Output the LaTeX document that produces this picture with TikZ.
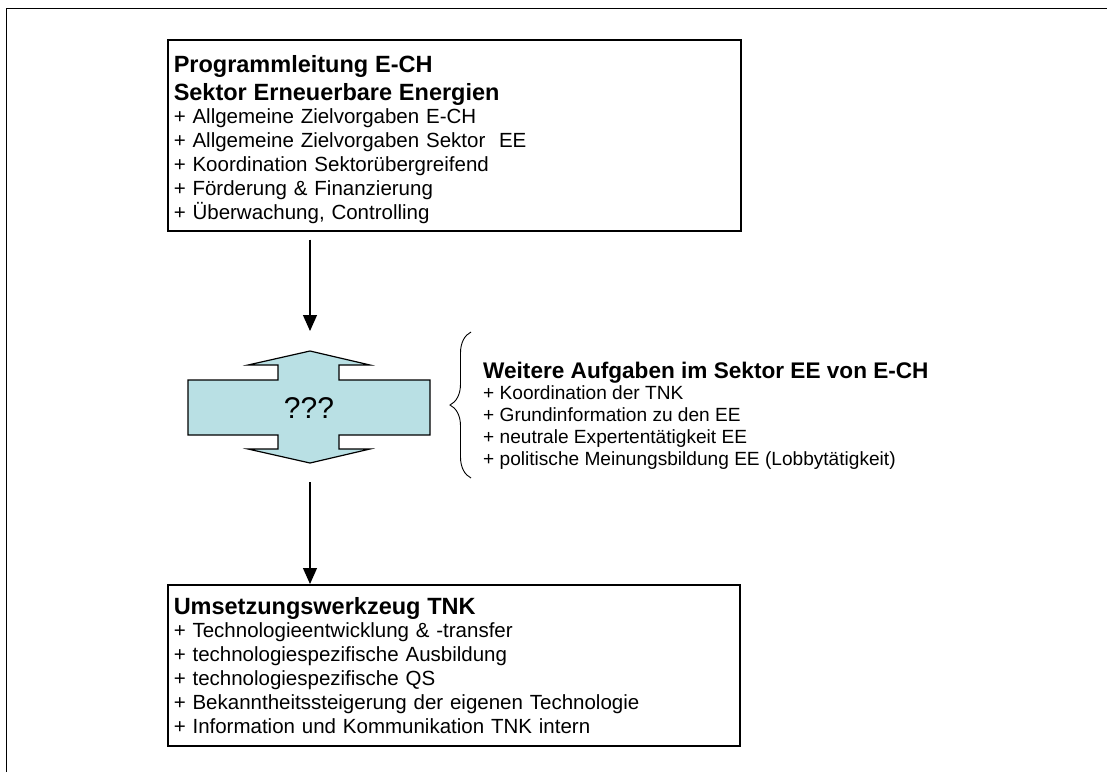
\documentclass[tikz,border=0pt]{standalone}
\usepackage{fontspec}
\setmainfont{Liberation Sans}
\usetikzlibrary{arrows.meta,decorations.pathreplacing}
\definecolor{hubfill}{RGB}{185,224,228}
\begin{document}
\begin{tikzpicture}[x=1pt,y=-1pt,
  boxnode/.style={draw,line width=1.5pt,anchor=north west,align=left,inner xsep=6pt,inner ysep=0pt,font=\fontsize{20.5}{24}\selectfont},
  conn/.style={line width=1.2pt,-{Triangle[length=16pt,width=14pt]}},
  hubshape/.style={fill=hubfill,draw=black,line width=1.2pt,line join=miter},
]
\useasboundingbox (0,0) rectangle (1107,772);
% outer frame
\draw[line width=1.5pt] (6.5,772) -- (6.5,8.5) -- (1107,8.5);

% top box
\node[boxnode,text width=561pt,minimum height=191pt] (top) at (167,39)
 {{\fontsize{23.5}{24}\selectfont\bfseries\rule{0pt}{25pt}Programmleitung E-CH\\[4pt]
  Sektor Erneuerbare Energien}\\[-1pt]
  + Allgemeine Zielvorgaben E-CH\\
  + Allgemeine Zielvorgaben Sektor\ \ EE\\
  + Koordination Sektorübergreifend\\
  + Förderung \& Finanzierung\\
  + Überwachung, Controlling};

% bottom box
\node[boxnode,text width=560pt,minimum height=161pt] (bot) at (167,584)
 {{\fontsize{23.5}{24}\selectfont\bfseries Umsetzungswerkzeug TNK}\\[-1pt]
  + Technologieentwicklung \& -transfer\\
  + technologiespezifische Ausbildung\\
  + technologiespezifische QS\\
  + Bekanntheitssteigerung der eigenen Technologie\\
  + Information und Kommunikation TNK intern};

% central double arrow
\draw[hubshape] (310,351) -- (370,365) -- (339,365) -- (339,380) -- (430,380)
  -- (430,435) -- (339,435) -- (339,449) -- (370,449) -- (310,463)
  -- (248,449) -- (278,449) -- (278,435) -- (188,435) -- (188,380)
  -- (278,380) -- (278,365) -- (248,365) -- cycle;
\node[font=\fontsize{30}{32}\selectfont] (hub) at (309,408) {???};
\coordinate (hubN) at (310,351);
\coordinate (hubS) at (310,463);

% connectors
\draw[conn,shorten <=8pt,shorten >=20pt] (top.south -| hubN) -- (hubN);
\draw[conn,shorten <=19pt] (hubS) -- (hubS |- bot.north);

% brace and side text
\draw[decorate,decoration={brace,amplitude=21pt},line width=0.9pt] (471,478) -- (471,332);
\node[anchor=west,align=left,inner sep=0pt,font=\fontsize{19.1}{22}\selectfont] (side) at (483,416)
 {{\fontsize{22.6}{22}\selectfont\bfseries Weitere Aufgaben im Sektor EE von E-CH}\\[-1.5pt]
  + Koordination der TNK\\
  + Grundinformation zu den EE\\
  + neutrale Expertentätigkeit EE\\
  + politische Meinungsbildung EE (Lobbytätigkeit)};
\end{tikzpicture}
\end{document}
